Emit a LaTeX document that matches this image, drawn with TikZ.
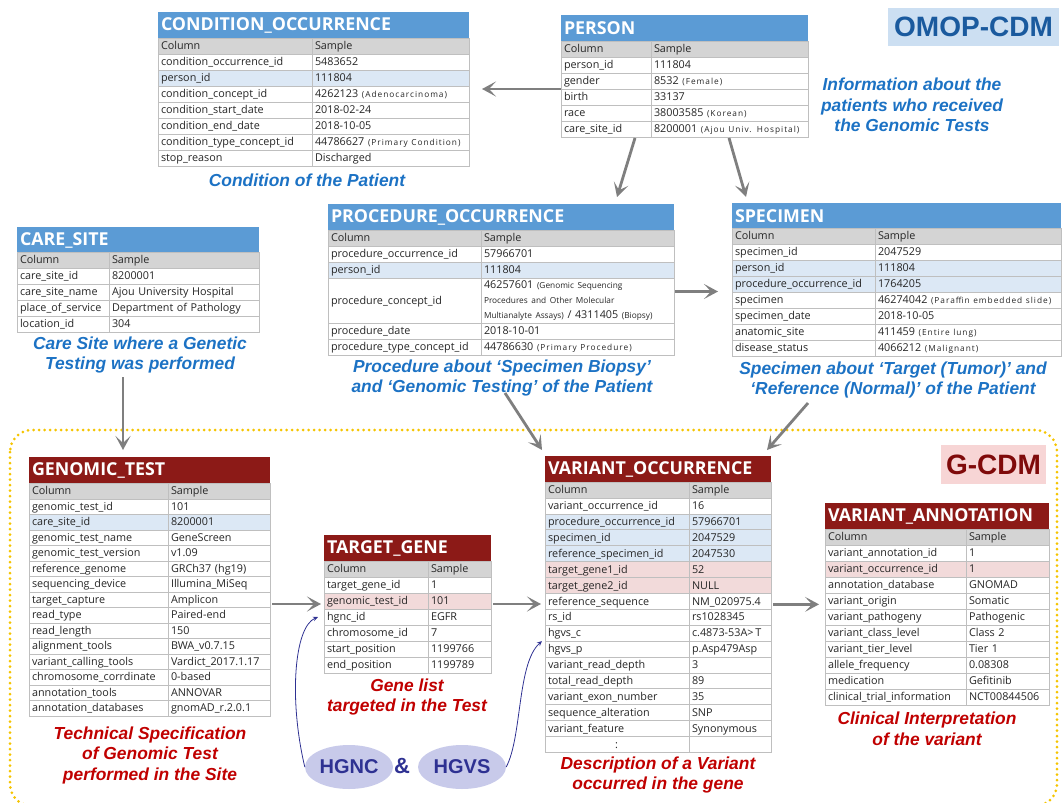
\documentclass[tikz,border=0pt]{standalone}
\usepackage{fontspec}
\setmainfont{Open Sans}
\newfontfamily\capfont{Liberation Sans}
\newfontfamily\smfont[LetterSpace=12]{Open Sans}
\usetikzlibrary{arrows.meta,shapes.geometric}

\definecolor{titleblue}{HTML}{5B9BD5}
\definecolor{titlered}{HTML}{8C1A17}
\definecolor{hdr}{HTML}{D4D4D4}
\definecolor{hlb}{HTML}{DCE8F5}
\definecolor{pinkr}{HTML}{F2DADA}
\definecolor{gridc}{HTML}{BFBFBF}
\definecolor{celltext}{HTML}{262626}
\definecolor{capblue}{HTML}{1C72C4}
\definecolor{capred}{HTML}{C00000}
\definecolor{omopbox}{HTML}{CCDFF2}
\definecolor{omoptext}{HTML}{1A5A9E}
\definecolor{gcdmbox}{HTML}{F7D5D5}
\definecolor{gcdmtext}{HTML}{7F0A0A}
\definecolor{arrgrey}{HTML}{7F7F7F}
\definecolor{lav}{HTML}{C8CAEA}
\definecolor{navy}{HTML}{2E3192}
\definecolor{goldc}{HTML}{F5C400}

\newcommand\sm[1]{{\smfont\fontsize{8.3}{10}\selectfont #1}}
\newcommand\smn[1]{{\fontsize{8.3}{10}\selectfont #1}}

\tikzset{
 cellbox/.style={draw=gridc, line width=0.7pt, inner xsep=3pt, inner ysep=0pt, outer sep=0pt,
   align=left, text=celltext, font=\fontsize{10.8}{12}\selectfont, anchor=north west,
   text height=9.4pt, text depth=2pt},
 titlebox/.style={inner xsep=3pt, inner ysep=0pt, outer sep=0pt, align=left, text=white,
   font=\bfseries\fontsize{17.8}{20}\selectfont, anchor=north west, minimum height=26pt},
 captext/.style={font=\capfont\bfseries\itshape\fontsize{17.4}{20.5}\selectfont, align=center, inner sep=0pt},
 capb/.style={captext, text=capblue},
 capr/.style={captext, text=capred},
 arr/.style={draw=arrgrey, line width=2.8pt, -{Stealth[length=14pt, width=15pt, inset=7pt]}},
 link/.style={draw=navy, line width=0.8pt, -{Stealth[length=5pt, width=4.5pt]}},
 oval/.style={ellipse, fill=lav, minimum width=88pt, minimum height=44pt, inner sep=0pt,
   text=navy, font=\capfont\bfseries\fontsize{20}{24}\selectfont},
 region/.style={draw=goldc, line width=3pt, line cap=round, dash pattern=on 0pt off 5.5pt, rounded corners=22pt},
 badge/.style={inner sep=0pt, font=\capfont\bfseries\fontsize{28}{30}\selectfont},
}

% #1 name, #2 x left, #3 x right, #4 y top, #5 height, #6 fill, #7 text
\newcommand\cellnode[7]{%
  \pgfmathsetmacro\cw{#3-#2-6}%
  \node[cellbox, fill=#6, text width=\cw pt, minimum height=#5 pt] (#1) at (#2,#4) {#7};}
% #1 name, #2 x0, #3 x1, #4 y top, #5 colour, #6 text
\newcommand\titlenode[6]{%
  \pgfmathsetmacro\tw{#3-#2-6}%
  \node[titlebox, fill=#5, text width=\tw pt] (#1-t) at (#2,#4) {#6};}
% #1 name, #2 x0, #3 xd, #4 x1, #5 y, #6 h
\newcommand\headrow[6]{%
  \cellnode{#1-hc}{#2}{#3}{#5}{#6}{hdr}{Column}%
  \cellnode{#1-hv}{#3}{#4}{#5}{#6}{hdr}{Sample}}
% #1 name, #2 x0, #3 xd, #4 x1, #5 y start, #6 h, #7 list
\newcommand\dbrows[7]{%
  \foreach \colt/\valt/\fillt [count=\i] in {#7} {%
    \pgfmathsetmacro\yy{#5+(\i-1)*#6}%
    \cellnode{#1-c\i}{#2}{#3}{\yy}{#6}{\fillt}{\colt}%
    \cellnode{#1-v\i}{#3}{#4}{\yy}{#6}{\fillt}{\valt}%
  }}

\begin{document}
\begin{tikzpicture}[x=1pt,y=-1pt]
\useasboundingbox (0,0) rectangle (1063,803);

% G-CDM region
\draw[region] (10,430) rectangle (1057,806);

% badges
\node[badge, fill=omopbox, text=omoptext, minimum width=171pt, minimum height=38pt] (omop) at (973.5,27) {OMOP-CDM};
\node[badge, fill=gcdmbox, text=gcdmtext, minimum width=105pt, minimum height=39pt] (gcdm) at (993.5,464.5) {G-CDM};

% CONDITION_OCCURRENCE
\titlenode{cond}{158}{469}{12}{titleblue}{CONDITION\_OCCURRENCE}
\headrow{cond}{158}{312}{469}{38}{16}
\dbrows{cond}{158}{312}{469}{54}{16}{
 {condition\_occurrence\_id}/{5483652}/white,
 {person\_id}/{111804}/hlb,
 {condition\_concept\_id}/{4262123 \sm{(Adenocarcinoma)}}/white,
 {condition\_start\_date}/{2018-02-24}/white,
 {condition\_end\_date}/{2018-10-05}/white,
 {condition\_type\_concept\_id}/{44786627 \sm{(Primary Condition)}}/white,
 {stop\_reason}/{Discharged}/white}
\node[capb] (cond-cap) at (307,180) {Condition of the Patient};

% PERSON
\titlenode{person}{561}{808}{15}{titleblue}{PERSON}
\headrow{person}{561}{651}{808}{41}{16}
\dbrows{person}{561}{651}{808}{57}{16}{
 {person\_id}/{111804}/white,
 {gender}/{8532 \sm{(Female)}}/white,
 {birth}/{33137}/white,
 {race}/{38003585 \sm{(Korean)}}/white,
 {care\_site\_id}/{8200001 \sm{(Ajou Univ. Hospital)}}/white}
\node[capb] (person-cap) at (912,105) {Information about the\\patients who received\\the Genomic Tests};

% CARE_SITE
\titlenode{care}{17}{259}{227}{titleblue}{CARE\_SITE}
\headrow{care}{17}{109}{259}{252}{16}
\dbrows{care}{17}{109}{259}{268}{16}{
 {care\_site\_id}/{8200001}/white,
 {care\_site\_name}/{Ajou University Hospital}/white,
 {place\_of\_service}/{Department of Pathology}/white,
 {location\_id}/{304}/white}
\node[capb] (care-cap) at (140,355) {Care Site where a Genetic\\Testing was performed};

% PROCEDURE_OCCURRENCE
\titlenode{proc}{328}{674}{204}{titleblue}{PROCEDURE\_OCCURRENCE}
\headrow{proc}{328}{481}{674}{230}{16}
\cellnode{proc-c1}{328}{481}{246}{16}{white}{procedure\_occurrence\_id}
\cellnode{proc-v1}{481}{674}{246}{16}{white}{57966701}
\cellnode{proc-c2}{328}{481}{262}{16}{hlb}{person\_id}
\cellnode{proc-v2}{481}{674}{262}{16}{hlb}{111804}
\cellnode{proc-c3}{328}{481}{278}{45}{white}{procedure\_concept\_id}
\node[cellbox, fill=white, text width=187pt, minimum height=45pt, text height=, text depth=,
  font=\fontsize{10.8}{15}\selectfont] (proc-v3) at (481,278)
  {46257601 \smn{(Genomic Sequencing}\\\smn{Procedures and Other Molecular}\\\smn{Multianalyte Assays)} / 4311405 \smn{(Biopsy)}};
\cellnode{proc-c4}{328}{481}{323}{16}{white}{procedure\_date}
\cellnode{proc-v4}{481}{674}{323}{16}{white}{2018-10-01}
\cellnode{proc-c5}{328}{481}{339}{16}{white}{procedure\_type\_concept\_id}
\cellnode{proc-v5}{481}{674}{339}{16}{white}{44786630 \sm{(Primary Procedure)}}
\node[capb] (proc-cap) at (502,378) {Procedure about ‘Specimen Biopsy’\\and ‘Genomic Testing’ of the Patient};

% SPECIMEN
\titlenode{spec}{732}{1061}{203}{titleblue}{SPECIMEN}
\headrow{spec}{732}{875}{1061}{228}{16}
\dbrows{spec}{732}{875}{1061}{244}{16}{
 {specimen\_id}/{2047529}/white,
 {person\_id}/{111804}/hlb,
 {procedure\_occurrence\_id}/{1764205}/hlb,
 {specimen}/{46274042 \sm{(Paraffin embedded slide)}}/white,
 {specimen\_date}/{2018-10-05}/white,
 {anatomic\_site}/{411459 \sm{(Entire lung)}}/white,
 {disease\_status}/{4066212 \sm{(Malignant)}}/white}
\node[capb] (spec-cap) at (893,380) {Specimen about ‘Target (Tumor)’ and\\‘Reference (Normal)’ of the Patient};

% GENOMIC_TEST
\titlenode{gen}{29}{270}{457}{titlered}{GENOMIC\_TEST}
\headrow{gen}{29}{168}{270}{483}{16}
\dbrows{gen}{29}{168}{270}{499}{15.5}{
 {genomic\_test\_id}/{101}/white,
 {care\_site\_id}/{8200001}/hlb,
 {genomic\_test\_name}/{GeneScreen}/white,
 {genomic\_test\_version}/{v1.09}/white,
 {reference\_genome}/{GRCh37 (hg19)}/white,
 {sequencing\_device}/{Illumina\_MiSeq}/white,
 {target\_capture}/{Amplicon}/white,
 {read\_type}/{Paired-end}/white,
 {read\_length}/{150}/white,
 {alignment\_tools}/{BWA\_v0.7.15}/white,
 {variant\_calling\_tools}/{Vardict\_2017.1.17}/white,
 {chromosome\_corrdinate}/{0-based}/white,
 {annotation\_tools}/{ANNOVAR}/white,
 {annotation\_databases}/{gnomAD\_r.2.0.1}/white}
\node[capr] (gen-cap) at (150,755) {Technical Specification\\of Genomic Test\\performed in the Site};

% TARGET_GENE
\titlenode{tgt}{324}{491}{535}{titlered}{TARGET\_GENE}
\headrow{tgt}{324}{428}{491}{561}{16}
\dbrows{tgt}{324}{428}{491}{577}{16}{
 {target\_gene\_id}/{1}/white,
 {genomic\_test\_id}/{101}/pinkr,
 {hgnc\_id}/{EGFR}/white,
 {chromosome\_id}/{7}/white,
 {start\_position}/{1199766}/white,
 {end\_position}/{1199789}/white}
\node[capr] (tgt-cap) at (407,697) {Gene list\\targeted in the Test};

% VARIANT_OCCURRENCE
\titlenode{var}{545}{771}{456}{titlered}{VARIANT\_OCCURRENCE}
\headrow{var}{545}{689}{771}{482}{16}
\dbrows{var}{545}{689}{771}{498}{15.9}{
 {variant\_occurrence\_id}/{16}/white,
 {procedure\_occurrence\_id}/{57966701}/hlb,
 {specimen\_id}/{2047529}/hlb,
 {reference\_specimen\_id}/{2047530}/hlb,
 {target\_gene1\_id}/{52}/pinkr,
 {target\_gene2\_id}/{NULL}/pinkr,
 {reference\_sequence}/{NM\_020975.4}/white,
 {rs\_id}/{rs1028345}/white,
 {hgvs\_c}/{c.4873-53A>\,T}/white,
 {hgvs\_p}/{p.Asp479Asp}/white,
 {variant\_read\_depth}/{3}/white,
 {total\_read\_depth}/{89}/white,
 {variant\_exon\_number}/{35}/white,
 {sequence\_alteration}/{SNP}/white,
 {variant\_feature}/{Synonymous}/white,
 {\hspace*{67pt}:}/{}/white}
\node[capr] (var-cap) at (658,775) {Description of a Variant\\occurred in the gene};

% VARIANT_ANNOTATION
\titlenode{ann}{825}{1049}{503}{titlered}{VARIANT\_ANNOTATION}
\headrow{ann}{825}{966}{1049}{529}{16}
\dbrows{ann}{825}{966}{1049}{545}{16}{
 {variant\_annotation\_id}/{1}/white,
 {variant\_occurrence\_id}/{1}/pinkr,
 {annotation\_database}/{GNOMAD}/white,
 {variant\_origin}/{Somatic}/white,
 {variant\_pathogeny}/{Pathogenic}/white,
 {variant\_class\_level}/{Class 2}/white,
 {variant\_tier\_level}/{Tier 1}/white,
 {allele\_frequency}/{0.08308}/white,
 {medication}/{Gefitinib}/white,
 {clinical\_trial\_information}/{NCT00844506}/white}
\node[capr] (ann-cap) at (927,729) {Clinical Interpretation\\of the variant};

% HGNC & HGVS
\node[oval] (hgnc) at (349,767) {HGNC};
\node[oval] (hgvs) at (462,767) {HGVS};
\node[inner sep=0pt, text=navy, font=\capfont\bfseries\fontsize{22}{24}\selectfont] (amp) at (402,766) {\&};

% grey connectors
\draw[arr, shorten >=13pt] (person-c2.south west) -- (person-c2.south west -| cond-v2.east);
\draw[arr] ([xshift=-16pt,yshift=-1pt]person-c5.south east) -- ([xshift=116pt,yshift=7pt]proc-t.north);
\draw[arr] ([xshift=78pt,yshift=-1pt]person-v5.south west) -- ([xshift=14pt,yshift=6pt]spec-t.north west);
\draw[arr, shorten <=1pt, shorten >=14pt] ([yshift=9pt]proc-v3.east) -- ([yshift=9pt]proc-v3.east -| spec-c1.west);
\draw[arr] ([xshift=94pt,yshift=80pt]gen-t.north west) -- ([xshift=94pt,yshift=7pt]gen-t.north west);
\draw[arr] ([xshift=-40pt,yshift=63pt]var-t.north west) -- ([xshift=-3pt,yshift=6pt]var-t.north west);
\draw[arr] ([xshift=37pt,yshift=53pt]var-t.north east) -- ([xshift=-4pt,yshift=6pt]var-t.north east);
\draw[arr, shorten <=2pt, shorten >=3pt] ([yshift=-3pt]tgt-c2.west -| gen-v7.east) -- ([yshift=-3pt]tgt-c2.west);
\draw[arr, shorten <=2pt, shorten >=4pt] ([yshift=-3pt]tgt-v2.east) -- ([yshift=-3pt]tgt-v2.east -| var-c7.west);
\draw[arr, shorten <=2pt, shorten >=6pt] ([yshift=-3pt]var-v7.east) -- ([yshift=-3pt]var-v7.east -| ann-c4.west);

% blue links
\draw[link] (hgnc.west) .. controls ([xshift=-16pt,yshift=67pt]hgnc.west) and ([xshift=-30pt,yshift=-10pt]tgt-c3.west) .. ([xshift=-6pt]tgt-c3.west);
\draw[link] (hgvs.east) .. controls ([xshift=16pt,yshift=30pt]hgvs.east) and ([xshift=-28pt,yshift=-22pt]var-c9.south west) .. ([xshift=-3pt]var-c9.south west);
\end{tikzpicture}
\end{document}
